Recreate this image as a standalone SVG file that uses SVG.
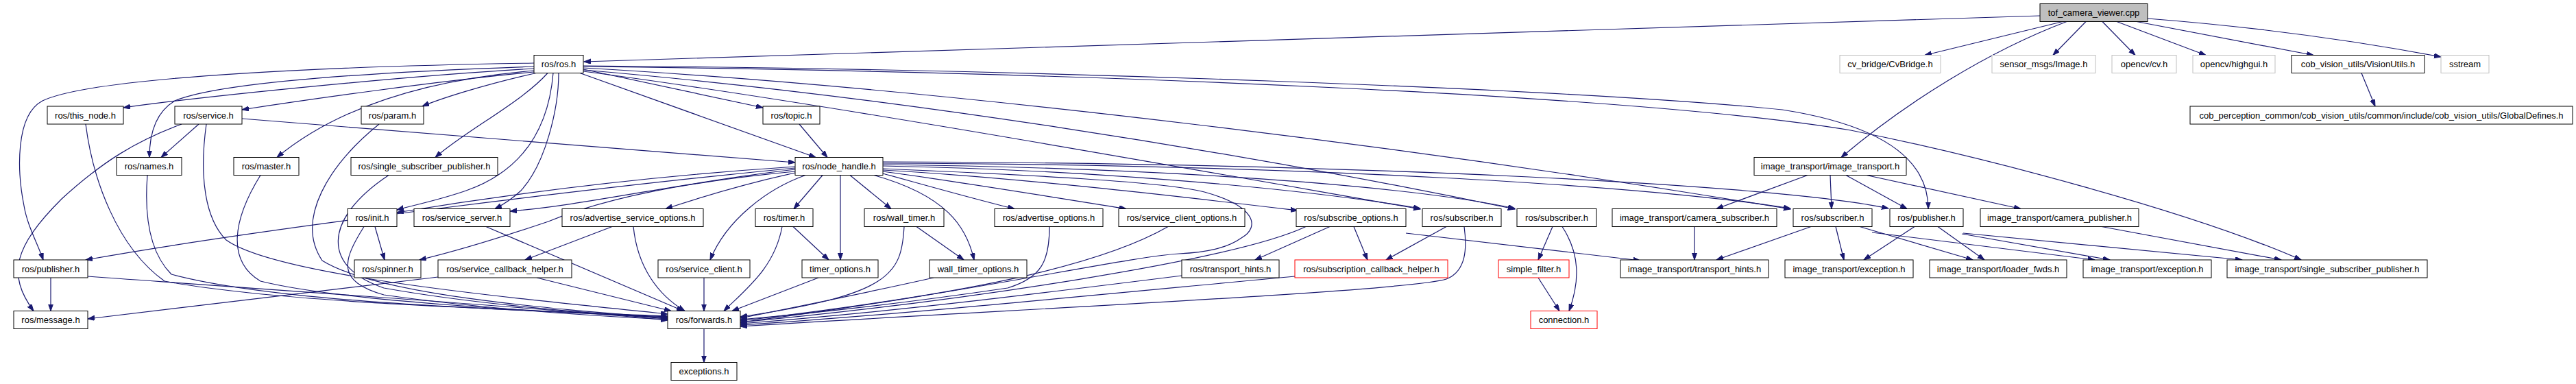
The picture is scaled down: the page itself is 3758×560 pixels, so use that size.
<svg xmlns="http://www.w3.org/2000/svg" width="3758" height="560" viewBox="0 0 3758 560">
<style>
.n rect{fill:#fff;stroke:#000;stroke-width:1}
.g rect{stroke:#bfbfbf}
.r rect{stroke:#ff0000}
.root rect{fill:#bfbfbf}
text{font-family:"Liberation Sans",Arial,sans-serif;font-size:13px;text-anchor:middle;fill:#000}
.e path{fill:none;stroke:#191970;stroke-width:1.2;marker-end:url(#ah)}
</style>
<defs>
<marker id="ah" markerUnits="userSpaceOnUse" markerWidth="11" markerHeight="8" refX="10" refY="3.5" orient="auto"><path d="M0,0 L10,3.5 L0,7 z" fill="#191970" stroke="#191970"/></marker>
</defs>
<rect width="3758" height="560" fill="#fff"/>
<g class="e" id="edges">
<path d="M2976,23 L852,90"/>
<path d="M3009,31.5 L2808,80.5"/>
<path d="M3015,31.5 C2900,75 2780,150 2686,229.5"/>
<path d="M3043,31.5 L2995,80.5"/>
<path d="M3067,31.5 L3115,80.5"/>
<path d="M3088,31.5 L3218,80.5"/>
<path d="M3117,31.5 L3375,80.5"/>
<path d="M3133,27 C3300,40 3450,62 3561,83"/>
<path d="M3445,106.5 L3465,155"/>
<path d="M779,92 C520,96 140,110 62,147 C22,168 25,250 35,300 C40,330 55,355 63,379"/>
<path d="M779,97 C550,105 320,120 255,147 C225,165 218,200 218,229.5"/>
<path d="M779,100 C600,110 300,140 180,157"/>
<path d="M779,103 C640,115 500,150 404,229.5"/>
<path d="M779,105 C640,118 450,145 353,160"/>
<path d="M782,106.5 C700,125 640,145 616,155"/>
<path d="M799,106.5 C760,150 680,190 635,229.5"/>
<path d="M807,106.5 C800,190 760,250 680,278 C640,292 600,300 579,306"/>
<path d="M815,106.5 C815,160 795,240 760,278 C745,292 735,298 722,304.5"/>
<path d="M851,101 L1113,157"/>
<path d="M846,106.5 L1190,229.5"/>
<path d="M851,96 C1500,100 2300,130 2600,160 C2760,185 2813,240 2813,304.5"/>
<path d="M851,97 C1600,105 2400,140 2700,190 C2900,230 3200,310 3357,379"/>
<path d="M851,104 C1200,150 1700,240 2072,305"/>
<path d="M851,102 C1300,140 1800,220 2210,305"/>
<path d="M851,99 C1400,130 2100,220 2612,305"/>
<path d="M1160,245 C900,270 400,330 125,379"/>
<path d="M1160,243 C900,260 700,290 579,310"/>
<path d="M1160,247 C1000,265 850,300 744,308"/>
<path d="M1160,250 C1000,265 880,290 800,323 C720,350 650,370 612,379"/>
<path d="M1160,252 C1100,265 1030,285 971,304.5"/>
<path d="M1175,255.5 C1120,275 1060,320 1036,379"/>
<path d="M1200,255.5 L1158,304.5"/>
<path d="M1226,255.5 L1226,379"/>
<path d="M1240,255.5 L1300,304.5"/>
<path d="M1275,255.5 C1380,285 1410,330 1421,379"/>
<path d="M1288,253 C1350,270 1420,290 1480,304.5"/>
<path d="M1288,250 C1400,265 1550,290 1643,304.5"/>
<path d="M1288,248 C1500,260 1750,290 1893,307"/>
<path d="M1288,246 C1500,255 1700,265 1757,280 C1830,300 1840,330 1811,347 C1790,362 1760,368 1720,370 C1640,375 1400,430 1080,470"/>
<path d="M1288,242 C1600,248 1900,275 2072,304"/>
<path d="M1288,240 C1700,245 2050,270 2210,304"/>
<path d="M1288,238 C1900,240 2400,270 2612,304"/>
<path d="M1288,236 C2000,238 2600,270 2755,304"/>
<path d="M1166,181 L1207,229.5"/>
<path d="M353,173 C600,195 900,215 1160,237"/>
<path d="M290,181 L235,229.5"/>
<path d="M265,181 C200,205 150,235 90,290 C20,360 10,400 49,453.5"/>
<path d="M301,181 C290,260 300,320 330,350 C400,400 700,430 974,458"/>
<path d="M125,181 C135,260 170,360 240,410 C400,440 700,450 974,461"/>
<path d="M215,255.5 C210,320 220,370 250,400 C400,440 700,450 974,462"/>
<path d="M380,255.5 C340,320 330,380 380,410 C500,440 800,455 974,463"/>
<path d="M553,181 C480,240 430,320 470,380 C550,430 800,450 974,464"/>
<path d="M567,255.5 C470,320 470,390 560,420 C700,445 850,455 974,465"/>
<path d="M531,330.5 C500,380 490,410 560,430 C700,450 850,460 974,466"/>
<path d="M547,330.5 L561,379"/>
<path d="M74,405 L74,453.5"/>
<path d="M128,403 C500,430 800,450 974,467"/>
<path d="M639,404 L128,465"/>
<path d="M709,330.5 L997,453.5"/>
<path d="M893,330.5 L766,379"/>
<path d="M924,330.5 C930,390 960,430 999,453.5"/>
<path d="M783,405 L979,453.5"/>
<path d="M1027,405 L1027,453.5"/>
<path d="M1141,330.5 C1130,390 1090,420 1056,453.5"/>
<path d="M1157,330.5 L1209,379"/>
<path d="M1194,405 L1068,453.5"/>
<path d="M1337,330.5 L1406,379"/>
<path d="M1319,330.5 C1315,400 1300,430 1080,462"/>
<path d="M1362,405 C1250,430 1150,450 1080,464"/>
<path d="M1531,330.5 C1531,380 1520,405 1470,420 C1300,445 1150,460 1080,466"/>
<path d="M1704,330.5 C1600,390 1400,430 1080,468"/>
<path d="M1940,330.5 L1831,379"/>
<path d="M1905,330.5 C1800,380 1400,440 1080,470"/>
<path d="M1975,330.5 L1995,379"/>
<path d="M2051,340 L2393,380"/>
<path d="M1724,402 C1500,430 1300,455 1080,472"/>
<path d="M1889,403 C1600,430 1300,460 1080,474"/>
<path d="M2110,330.5 L2022,379"/>
<path d="M2136,330.5 C2140,360 2140,395 2110,407 C2050,425 1500,450 1080,476"/>
<path d="M2265,330.5 L2244,379"/>
<path d="M2279,330.5 C2305,370 2305,410 2289,453.5"/>
<path d="M2244,405 L2275,453.5"/>
<path d="M2472,330.5 L2472,379"/>
<path d="M2642,330.5 L2504,379"/>
<path d="M2678,330.5 L2690,379"/>
<path d="M2713,330.5 L2878,379"/>
<path d="M2731,339 L3056,379"/>
<path d="M2793,330.5 L2719,379"/>
<path d="M2827,330.5 L2895,379"/>
<path d="M2862,341 L3078,379"/>
<path d="M2864,340 L3271,379"/>
<path d="M3066,330.5 L3328,379"/>
<path d="M2637,255.5 L2504,304.5"/>
<path d="M2670,255.5 L2672,304.5"/>
<path d="M2693,255.5 L2782,304.5"/>
<path d="M2723,255.5 L2948,304.5"/>
<path d="M1027,479.5 L1027,528.5"/>
</g>
<g id="n_tof" class="n root"><rect x="2976" y="5.5" width="157" height="26"/><text x="3054.5" y="23">tof_camera_viewer.cpp</text></g>
<g id="n_ros" class="n"><rect x="779" y="80.5" width="72" height="26"/><text x="815" y="98">ros/ros.h</text></g>
<g id="n_cvb" class="n g"><rect x="2684" y="80.5" width="147" height="26"/><text x="2757.5" y="98">cv_bridge/CvBridge.h</text></g>
<g id="n_img" class="n g"><rect x="2906" y="80.5" width="151" height="26"/><text x="2981.5" y="98">sensor_msgs/Image.h</text></g>
<g id="n_cv" class="n g"><rect x="3081" y="80.5" width="94" height="26"/><text x="3128" y="98">opencv/cv.h</text></g>
<g id="n_hg" class="n g"><rect x="3199" y="80.5" width="120" height="26"/><text x="3259" y="98">opencv/highgui.h</text></g>
<g id="n_vu" class="n"><rect x="3343" y="80.5" width="194" height="26"/><text x="3440" y="98">cob_vision_utils/VisionUtils.h</text></g>
<g id="n_ss" class="n g"><rect x="3561" y="80.5" width="70" height="26"/><text x="3596" y="98">sstream</text></g>
<g id="n_thisnode" class="n"><rect x="69" y="155" width="111" height="26"/><text x="124.5" y="172.5">ros/this_node.h</text></g>
<g id="n_service" class="n"><rect x="255" y="155" width="98" height="26"/><text x="304" y="172.5">ros/service.h</text></g>
<g id="n_param" class="n"><rect x="527" y="155" width="91" height="26"/><text x="572.5" y="172.5">ros/param.h</text></g>
<g id="n_topic" class="n"><rect x="1113" y="155" width="83" height="26"/><text x="1154.5" y="172.5">ros/topic.h</text></g>
<g id="n_gd" class="n"><rect x="3195" y="155" width="558" height="26"/><text x="3474" y="172.5">cob_perception_common/cob_vision_utils/common/include/cob_vision_utils/GlobalDefines.h</text></g>
<g id="n_names" class="n"><rect x="170" y="229.5" width="95" height="26"/><text x="217.5" y="247">ros/names.h</text></g>
<g id="n_master" class="n"><rect x="341" y="229.5" width="95" height="26"/><text x="388.5" y="247">ros/master.h</text></g>
<g id="n_rssp" class="n"><rect x="512" y="229.5" width="214" height="26"/><text x="619" y="247">ros/single_subscriber_publisher.h</text></g>
<g id="n_nh" class="n"><rect x="1160" y="229.5" width="128" height="26"/><text x="1224" y="247">ros/node_handle.h</text></g>
<g id="n_it" class="n"><rect x="2559" y="229.5" width="222" height="26"/><text x="2670" y="247">image_transport/image_transport.h</text></g>
<g id="n_init" class="n"><rect x="507" y="304.5" width="72" height="26"/><text x="543" y="322">ros/init.h</text></g>
<g id="n_ssrv" class="n"><rect x="604" y="304.5" width="140" height="26"/><text x="674" y="322">ros/service_server.h</text></g>
<g id="n_aso" class="n"><rect x="820" y="304.5" width="206" height="26"/><text x="923" y="322">ros/advertise_service_options.h</text></g>
<g id="n_timer" class="n"><rect x="1102" y="304.5" width="84" height="26"/><text x="1144" y="322">ros/timer.h</text></g>
<g id="n_wt" class="n"><rect x="1261" y="304.5" width="116" height="26"/><text x="1319" y="322">ros/wall_timer.h</text></g>
<g id="n_ao" class="n"><rect x="1451" y="304.5" width="158" height="26"/><text x="1530" y="322">ros/advertise_options.h</text></g>
<g id="n_sco" class="n"><rect x="1632" y="304.5" width="184" height="26"/><text x="1724" y="322">ros/service_client_options.h</text></g>
<g id="n_so" class="n"><rect x="1891" y="304.5" width="160" height="26"/><text x="1971" y="322">ros/subscribe_options.h</text></g>
<g id="n_sub1" class="n"><rect x="2075" y="304.5" width="115" height="26"/><text x="2132.5" y="322">ros/subscriber.h</text></g>
<g id="n_sub2" class="n"><rect x="2213" y="304.5" width="116" height="26"/><text x="2271" y="322">ros/subscriber.h</text></g>
<g id="n_csub" class="n"><rect x="2352" y="304.5" width="240" height="26"/><text x="2472" y="322">image_transport/camera_subscriber.h</text></g>
<g id="n_sub3" class="n"><rect x="2616" y="304.5" width="115" height="26"/><text x="2673.5" y="322">ros/subscriber.h</text></g>
<g id="n_pubr" class="n"><rect x="2757" y="304.5" width="107" height="26"/><text x="2810.5" y="322">ros/publisher.h</text></g>
<g id="n_cpub" class="n"><rect x="2889" y="304.5" width="231" height="26"/><text x="3004.5" y="322">image_transport/camera_publisher.h</text></g>
<g id="n_publ" class="n"><rect x="20" y="379" width="108" height="26"/><text x="74" y="396.5">ros/publisher.h</text></g>
<g id="n_spin" class="n"><rect x="517" y="379" width="97" height="26"/><text x="565.5" y="396.5">ros/spinner.h</text></g>
<g id="n_sch" class="n"><rect x="639" y="379" width="195" height="26"/><text x="736.5" y="396.5">ros/service_callback_helper.h</text></g>
<g id="n_sc" class="n"><rect x="960" y="379" width="134" height="26"/><text x="1027" y="396.5">ros/service_client.h</text></g>
<g id="n_to" class="n"><rect x="1170" y="379" width="111" height="26"/><text x="1225.5" y="396.5">timer_options.h</text></g>
<g id="n_wto" class="n"><rect x="1356" y="379" width="142" height="26"/><text x="1427" y="396.5">wall_timer_options.h</text></g>
<g id="n_th" class="n"><rect x="1724" y="379" width="142" height="26"/><text x="1795" y="396.5">ros/transport_hints.h</text></g>
<g id="n_subch" class="n r"><rect x="1889" y="379" width="223" height="26"/><text x="2000.5" y="396.5">ros/subscription_callback_helper.h</text></g>
<g id="n_sf" class="n r"><rect x="2186" y="379" width="103" height="26"/><text x="2237.5" y="396.5">simple_filter.h</text></g>
<g id="n_ith" class="n"><rect x="2364" y="379" width="216" height="26"/><text x="2472" y="396.5">image_transport/transport_hints.h</text></g>
<g id="n_ex1" class="n"><rect x="2604" y="379" width="187" height="26"/><text x="2697.5" y="396.5">image_transport/exception.h</text></g>
<g id="n_lf" class="n"><rect x="2815" y="379" width="200" height="26"/><text x="2915" y="396.5">image_transport/loader_fwds.h</text></g>
<g id="n_ex2" class="n"><rect x="3039" y="379" width="187" height="26"/><text x="3132.5" y="396.5">image_transport/exception.h</text></g>
<g id="n_itssp" class="n"><rect x="3249" y="379" width="292" height="26"/><text x="3395" y="396.5">image_transport/single_subscriber_publisher.h</text></g>
<g id="n_msg" class="n"><rect x="20" y="453.5" width="108" height="26"/><text x="74" y="471">ros/message.h</text></g>
<g id="n_fwd" class="n"><rect x="974" y="453.5" width="106" height="26"/><text x="1027" y="471">ros/forwards.h</text></g>
<g id="n_conn" class="n r"><rect x="2233" y="453.5" width="97" height="26"/><text x="2281.5" y="471">connection.h</text></g>
<g id="n_exc" class="n"><rect x="979" y="528.5" width="96" height="26"/><text x="1027" y="546">exceptions.h</text></g>
</svg>
